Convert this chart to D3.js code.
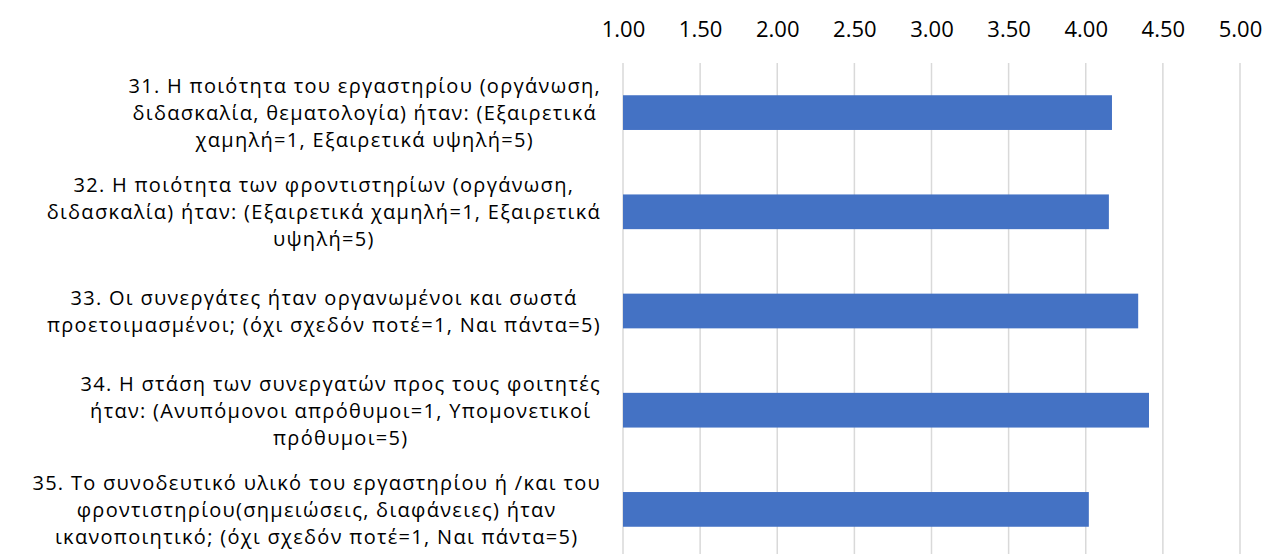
<!DOCTYPE html>
<html>
<head>
<meta charset="utf-8">
<script src="https://cdn.jsdelivr.net/npm/d3@7"></script>
<style>
  body { margin: 0; background: #fff; }
  text { font-family: "Open Sans", sans-serif; fill: #000; }
</style>
</head>
<body>
<div id="chart"></div>
<script>
// questions (each label split into its lines as in the original)
const questions = [
  ["31. Η ποιότητα του εργαστηρίου (οργάνωση,", "διδασκαλία, θεματολογία) ήταν: (Εξαιρετικά", "χαμηλή=1, Εξαιρετικά υψηλή=5)"],
  ["32. Η ποιότητα των φροντιστηρίων (οργάνωση,", "διδασκαλία) ήταν: (Εξαιρετικά χαμηλή=1, Εξαιρετικά", "υψηλή=5)"],
  ["33. Οι συνεργάτες ήταν οργανωμένοι και σωστά", "προετοιμασμένοι; (όχι σχεδόν ποτέ=1, Ναι πάντα=5)"],
  ["34. Η στάση των συνεργατών προς τους φοιτητές", "ήταν: (Ανυπόμονοι απρόθυμοι=1, Υπομονετικοί", "πρόθυμοι=5)"],
  ["35. Το συνοδευτικό υλικό του εργαστηρίου ή /και του", "φροντιστηρίου(σημειώσεις, διαφάνειες) ήταν", "ικανοποιητικό; (όχι σχεδόν ποτέ=1, Ναι πάντα=5)"]
];
const scores = [4.17, 4.15, 4.34, 4.41, 4.02];
const tickValues = [1, 1.5, 2, 2.5, 3, 3.5, 4, 4.5, 5];

const width = 1268, height = 554;
const margin = { top: 63, left: 623, right: 28 };
const plotH = 496;   // runs past the bottom of the picture, like the original
const fontSize = 20, tickFontSize = 22, lineH = 27;

const svg = d3.select("#chart")
  .append("svg")
  .attr("width", width)
  .attr("height", height);

const x = d3.scaleLinear()
  .domain([1, 5])
  .range([margin.left, width - margin.right]);

const y = d3.scaleBand()
  .domain(questions.map((d, i) => i))
  .range([margin.top, margin.top + plotH])
  .paddingInner(0.65)
  .paddingOuter(0.325);

// gridlines
svg.append("g")
  .selectAll("line")
  .data(tickValues)
  .join("line")
  .attr("x1", d => x(d))
  .attr("x2", d => x(d))
  .attr("y1", margin.top)
  .attr("y2", margin.top + plotH)
  .attr("stroke", "#d9d9d9")
  .attr("stroke-width", 1.5);

// top axis labels
const axis = d3.axisTop(x)
  .tickValues(tickValues)
  .tickFormat(d3.format(".2f"))
  .tickSize(0)
  .tickPadding(0);

svg.append("g")
  .attr("transform", "translate(0,37)")
  .call(axis)
  .call(g => g.select(".domain").remove())
  .selectAll("text")
  .attr("dy", 0)
  .style("font-size", tickFontSize + "px")
  .style("font-family", "'Open Sans', sans-serif")
  .attr("fill", "#000");

// bars
svg.append("g")
  .selectAll("rect")
  .data(scores)
  .join("rect")
  .attr("x", x(1))
  .attr("y", (d, i) => y(i))
  .attr("width", d => x(d) - x(1))
  .attr("height", y.bandwidth())
  .attr("fill", "#4472c4");

// category labels: lines centred inside a block that is right-aligned to the plot
const labelRight = 601;
const labels = svg.append("g")
  .selectAll("g")
  .data(questions)
  .join("g");

labels.each(function (lines, i) {
  const g = d3.select(this);
  const cy = y(i) + y.bandwidth() / 2;
  const txt = g.selectAll("text")
    .data(lines)
    .join("text")
    .attr("text-anchor", "middle")
    .attr("dominant-baseline", "central")
    .style("font-size", fontSize + "px")
    .style("letter-spacing", "1.3px")
    .attr("y", (d, j) => cy + (j - (lines.length - 1) / 2) * lineH)
    .text(d => d);
  let maxW = 0;
  txt.each(function () { maxW = Math.max(maxW, this.getComputedTextLength()); });
  txt.attr("x", labelRight - maxW / 2);
});
</script>
</body>
</html>
